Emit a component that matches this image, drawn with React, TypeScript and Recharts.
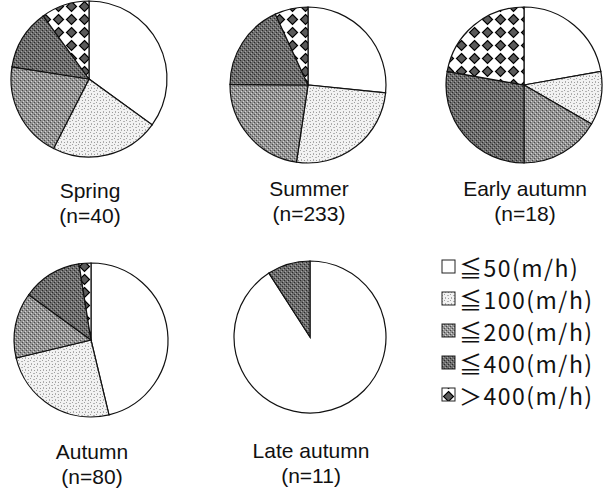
import { Cell, Pie, PieChart } from "recharts";

// speed classes (legend order, clockwise from 12 o'clock)
const classes = ["≦50(m/h)", "≦100(m/h)", "≦200(m/h)", "≦400(m/h)", "＞400(m/h)"];

const seasons = ["Spring", "Summer", "Early autumn", "Autumn", "Late autumn"];
const sampleSizes = [40, 233, 18, 80, 11];

// counts per class, same order as `classes`
const spring = [14, 9, 8, 5, 4];
const summer = [62, 60, 53, 42, 16];
const earlyAutumn = [4, 2, 3, 5, 4];
const autumn = [37, 20, 11, 10, 2];
const lateAutumn = [10, 0, 0, 1, 0];

const counts = [spring, summer, earlyAutumn, autumn, lateAutumn];

// layout only
const pies = [
  { cx: 89, cy: 79, r: 78, ty: 190 },
  { cx: 308, cy: 85, r: 78, ty: 188 },
  { cx: 524, cy: 85, r: 78, ty: 188 },
  { cx: 91, cy: 340, r: 77, ty: 451 },
  { cx: 310, cy: 337, r: 76, ty: 450 },
];

const fills = ["#ffffff", "url(#p100)", "url(#p200)", "url(#p400)", "url(#pdia)"];
const labelFont = "'Liberation Sans', Arial, sans-serif";
const legendFont = "'Noto Sans CJK JP', 'Noto Sans', sans-serif";

function Patterns() {
  return (
    <defs>
      <pattern id="p100" width="6" height="6" patternUnits="userSpaceOnUse">
        <rect width="6" height="6" fill="#f2f2f2" />
        <rect x="0" y="0" width="1" height="1" fill="#a0a0a0" />
        <rect x="3" y="1" width="2" height="1" fill="#b4b4b4" />
        <rect x="1" y="3" width="1" height="2" fill="#acacac" />
        <rect x="4" y="4" width="1" height="1" fill="#9c9c9c" />
      </pattern>
      <pattern id="p200" width="4" height="4" patternUnits="userSpaceOnUse">
        <rect width="4" height="4" fill="#939393" />
        <rect x="0" y="0" width="1" height="1" fill="#4a4a4a" />
        <rect x="2" y="2" width="1" height="1" fill="#4a4a4a" />
        <rect x="1" y="3" width="1" height="1" fill="#d4d4d4" />
        <rect x="3" y="1" width="1" height="1" fill="#d4d4d4" />
      </pattern>
      <pattern id="p400" width="4" height="4" patternUnits="userSpaceOnUse">
        <rect width="4" height="4" fill="#6c6c6c" />
        <rect x="0" y="0" width="1" height="1" fill="#2a2a2a" />
        <rect x="2" y="2" width="1" height="1" fill="#2a2a2a" />
        <rect x="1" y="3" width="1" height="1" fill="#a4a4a4" />
        <rect x="3" y="1" width="1" height="1" fill="#a4a4a4" />
      </pattern>
      <pattern id="pdia" width="13" height="13" patternUnits="userSpaceOnUse">
        <rect width="13" height="13" fill="#ffffff" />
        <polygon points="6.5,1.5 11.5,6.5 6.5,11.5 1.5,6.5" fill="#5a5a5a" stroke="#000" strokeWidth="1.2" />
      </pattern>
    </defs>
  );
}

export default function App() {
  return (
    <div style={{ position: "absolute", left: 0, top: 0, background: "#fff" }}>
      <PieChart width={616} height={489} margin={{ top: 0, right: 0, bottom: 0, left: 0 }}>
        <Patterns />
        {pies.map((p, i) => {
          const data = classes
            .map((name, k) => ({ name, value: counts[i][k], k }))
            .filter((d) => d.value > 0);
          return (
            <Pie
              key={seasons[i]}
              data={data}
              dataKey="value"
              nameKey="name"
              cx={p.cx}
              cy={p.cy}
              outerRadius={p.r}
              startAngle={90}
              endAngle={-270}
              stroke="#111"
              strokeWidth={1.2}
              isAnimationActive={false}
            >
              {data.map((d) => (
                <Cell key={d.name} fill={fills[d.k]} />
              ))}
            </Pie>
          );
        })}
        {pies.map((p, i) => (
          <g key={"t" + i} fontFamily={labelFont} fontSize={21} fill="#111" textAnchor="middle">
            <text x={p.cx + 1} y={p.ty} dominantBaseline="central">
              {seasons[i]}
            </text>
            <text x={p.cx + 1} y={p.ty + 25} dominantBaseline="central">
              ({"n=" + sampleSizes[i]})
            </text>
          </g>
        ))}
        <g fontFamily={legendFont} fontSize={23} fill="#111" letterSpacing={1.5}>
          {classes.map((c, k) => (
            <g key={c}>
              <rect x={442} y={260 + k * 32} width={13} height={13} fill={fills[k]} stroke="#222" strokeWidth={1} />
              <text x={459} y={267 + k * 32} dominantBaseline="central">
                {c}
              </text>
            </g>
          ))}
        </g>
      </PieChart>
    </div>
  );
}
